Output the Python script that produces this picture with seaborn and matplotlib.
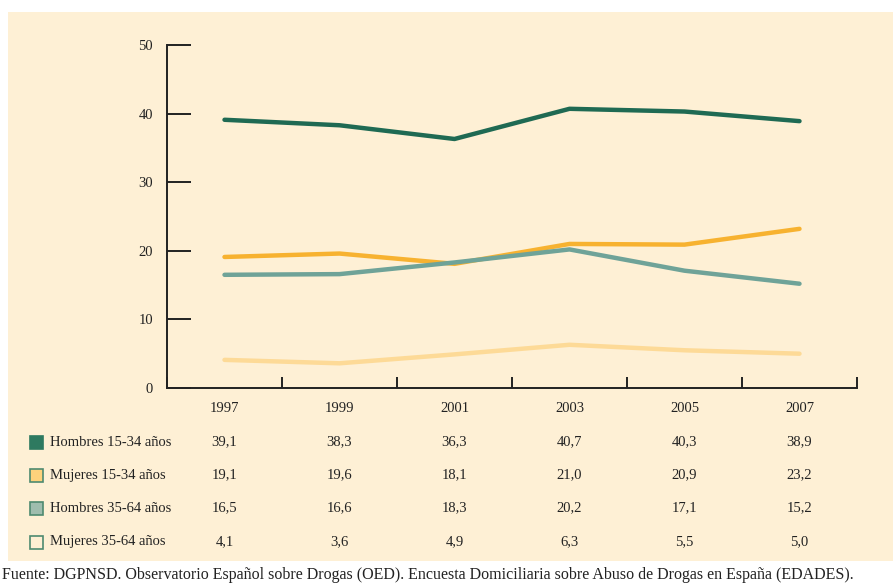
import matplotlib
matplotlib.use("Agg")
import matplotlib.pyplot as plt
import seaborn as sns
import pandas as pd
from matplotlib.patches import Rectangle
from matplotlib.transforms import blended_transform_factory

years = ["1997", "1999", "2001", "2003", "2005", "2007"]
series_names = ["Hombres 15-34 años", "Mujeres 15-34 años", "Hombres 35-64 años", "Mujeres 35-64 años"]
hombres_15_34 = [39.1, 38.3, 36.3, 40.7, 40.3, 38.9]
mujeres_15_34 = [19.1, 19.6, 18.1, 21.0, 20.9, 23.2]
hombres_35_64 = [16.5, 16.6, 18.3, 20.2, 17.1, 15.2]
mujeres_35_64 = [4.1, 3.6, 4.9, 6.3, 5.5, 5.0]
yticks = [0, 10, 20, 30, 40, 50]
source = "Fuente: DGPNSD. Observatorio Español sobre Drogas (OED). Encuesta Domiciliaria sobre Abuso de Drogas en España (EDADES)."

all_values = [hombres_15_34, mujeres_15_34, hombres_35_64, mujeres_35_64]
line_colors = ["#1F6A53", "#F7B230", "#6FA398", "#FDDA97"]
patch_colors = ["#2E7A60", "#FDD27C", "#9FBDAE", "#FEEFD3"]
edge_colors = ["#2E7A60", "#4E8A70", "#4E8A70", "#4E8A70"]

rows = []
for name, vals in zip(series_names, all_values):
    for i, (y, v) in enumerate(zip(years, vals)):
        rows.append({"pos": i, "year": y, "serie": name, "valor": v})
df = pd.DataFrame(rows)

sns.set_theme(style="white")
plt.rcParams["font.family"] = ["Liberation Serif", "DejaVu Serif"]

fig = plt.figure(figsize=(8.93, 5.84), dpi=100)
fig.patch.set_facecolor("white")
W, H = 893, 584
bg = Rectangle((8 / W, 1 - 561 / H), 1 - 8 / W, (561 - 12) / H, transform=fig.transFigure,
               facecolor="#FEF0D5", edgecolor="none", zorder=-10)
fig.patches.append(bg)

ax = fig.add_axes([167 / W, 1 - 388 / H, (857 - 167) / W, (388 - 45) / H])
ax.set_facecolor("none")
ax.set_zorder(5)

sns.lineplot(data=df, x="pos", y="valor", hue="serie", hue_order=series_names,
             palette=line_colors, linewidth=3.2, ax=ax, legend=False, sort=False)

ax.set_xlim(-0.5, 5.5)
ax.set_ylim(0, 50)
for s in ["top", "right"]:
    ax.spines[s].set_visible(False)
for s in ["left", "bottom"]:
    ax.spines[s].set_color("#222222")
    ax.spines[s].set_linewidth(1.4)

ax.set_yticks(yticks)
ax.set_yticklabels([str(t) for t in yticks], fontsize=10.5, color="#222222")
ax.tick_params(axis="y", left=True, direction="in", length=17, width=1.4, color="#222222", pad=10)
ax.set_xticks([i - 0.5 for i in range(7)])
ax.set_xticklabels([""] * 7)
ax.tick_params(axis="x", bottom=True, direction="in", length=8, width=1.4, color="#222222")
ax.set_xlabel("")
ax.set_ylabel("")

trans = blended_transform_factory(ax.transData, fig.transFigure)
for i, y in enumerate(years):
    ax.text(i, 1 - 408 / H, y, transform=trans, ha="center", va="center", fontsize=10.5,
            color="#222222", clip_on=False)

row_y = [442, 475, 508, 542]
for r, (name, vals) in enumerate(zip(series_names, all_values)):
    yf = 1 - row_y[r] / H
    sq = Rectangle((30 / W, yf - 6.5 / H), 13 / W, 13 / H, transform=fig.transFigure,
                   facecolor=patch_colors[r], edgecolor=edge_colors[r], linewidth=1.2, zorder=1)
    fig.patches.append(sq)
    fig.text(50 / W, yf, name, ha="left", va="center", fontsize=10.5, color="#222222")
    for i, v in enumerate(vals):
        ax.text(i, yf, f"{v:.1f}".replace(".", ","), transform=trans, ha="center", va="center",
                fontsize=10.5, color="#222222", clip_on=False)

fig.text(2 / W, 1 - 575 / H, source, ha="left", va="center", fontsize=11.5, color="#222222")

fig.savefig("out.png", dpi=100)
